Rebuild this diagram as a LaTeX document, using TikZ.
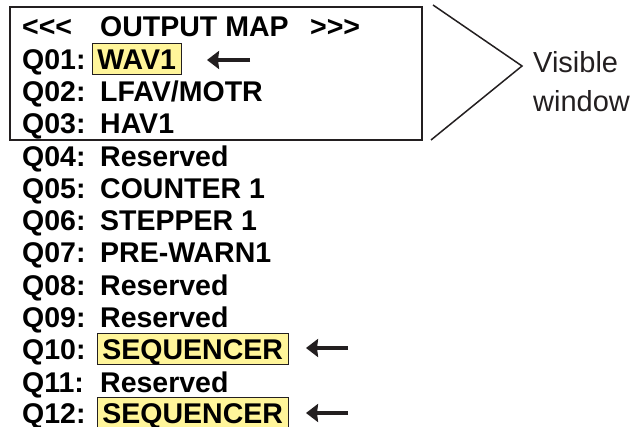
\documentclass[tikz,border=0pt]{standalone}
\usepackage{fontspec}
\setmainfont{Liberation Sans}
\usetikzlibrary{arrows.meta}
\definecolor{inkgray}{HTML}{231F20}
\definecolor{hiyellow}{HTML}{FFF59A}
\tikzset{
	row/.style={anchor=base west, inner sep=0pt, font=\fontsize{28.5}{32}\bfseries\selectfont},
	hilite/.style={row, draw=inkgray, line width=0.8pt, fill=hiyellow, inner xsep=5pt, inner ysep=4pt, text height=22.5pt, text depth=1pt},
	pointer/.style={line width=4pt, draw=inkgray, -{Stealth[length=12pt,width=18pt,inset=1pt]}},
	note/.style={anchor=base west, inner sep=0pt, text=inkgray, font=\fontsize{29}{38}\selectfont}
}
\begin{document}
\begin{tikzpicture}[x=1pt, y=-1pt]
		\useasboundingbox (0,0) rectangle (639,427);
		% visible window
		\draw[inkgray, line width=2pt] (10,7) rectangle (422,140);
		\coordinate (bt) at (433,5);
		\coordinate (bm) at (522,66);
		\coordinate (bb) at (431,140);
		\draw[inkgray, line width=1.5pt] (bt) -- (bm) -- (bb);
		\node [note] (vis) at (533,73) {Visible};
		\node [note] (win) at (533,112) {window};
		% header
		\node [row] (hl) at (22,37) {<\kern0pt<\kern0pt<};
		\node [row] (ht) at (100,37) {OUTPUT MAP};
		\node [row] (hr) at (310,37) {>\kern0pt>\kern0pt>};
		% outputs
		\node [row] (q01) at (22,69.5) {Q01:};
		\node [hilite] (v01) at (92,69.5) {WAV1};
		\node [row] (q02) at (22,101.75) {Q02:};
		\node [row] (v02) at (100,101.75) {LFAV/MOTR};
		\node [row] (q03) at (22,134) {Q03:};
		\node [row] (v03) at (100,134) {HAV1};
		\node [row] (q04) at (22,166.25) {Q04:};
		\node [row] (v04) at (100,166.25) {Reserved};
		\node [row] (q05) at (22,198.5) {Q05:};
		\node [row] (v05) at (100,198.5) {COUNTER 1};
		\node [row] (q06) at (22,230.75) {Q06:};
		\node [row] (v06) at (100,230.75) {STEPPER 1};
		\node [row] (q07) at (22,263) {Q07:};
		\node [row] (v07) at (100,263) {PRE-WARN1};
		\node [row] (q08) at (22,295.25) {Q08:};
		\node [row] (v08) at (100,295.25) {Reserved};
		\node [row] (q09) at (22,327.5) {Q09:};
		\node [row] (v09) at (100,327.5) {Reserved};
		\node [row] (q10) at (22,359.75) {Q10:};
		\node [hilite] (v10) at (97,359.75) {SEQUENCER};
		\node [row] (q11) at (22,392) {Q11:};
		\node [row] (v11) at (100,392) {Reserved};
		\node [row] (q12) at (22,423.5) {Q12:};
		\node [hilite] (v12) at (97,423.5) {SEQUENCER};
		% pointers
		\coordinate (p01) at (250,60);
		\coordinate (e01) at (207,60);
		\coordinate (p10) at (348,348);
		\coordinate (e10) at (306,348);
		\coordinate (p12) at (348,413);
		\coordinate (e12) at (306,413);
		\draw[pointer] (p01) -- (e01);
		\draw[pointer] (p10) -- (e10);
		\draw[pointer] (p12) -- (e12);
	\end{tikzpicture}
\end{document}
